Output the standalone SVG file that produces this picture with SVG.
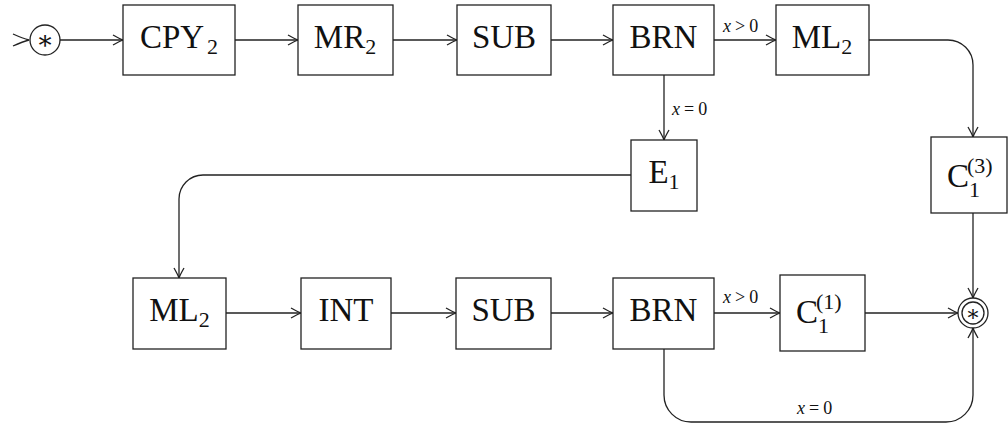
<svg xmlns="http://www.w3.org/2000/svg" width="1008" height="427" viewBox="0 0 1008 427">
<style>
.box{fill:#fff;stroke:#222;stroke-width:1.3}
.t{font-family:"Liberation Serif",serif;font-size:33px;fill:#111}
.s{font-size:22px}
.cond{font-family:"Liberation Serif",serif;font-size:18px;fill:#111}
.i{font-style:italic}
.conn path{fill:none;stroke:#222;stroke-width:1.3;marker-end:url(#arr)}
.ring{fill:#fff;stroke:#222;stroke-width:1.3}
.star{font-family:"DejaVu Serif",serif;fill:#111;text-anchor:middle}
</style>
<defs>
<marker id="arr" markerUnits="userSpaceOnUse" markerWidth="14" markerHeight="14" viewBox="-12 -7 14 14" refX="0" refY="0" orient="auto">
<path d="M-10,-5 Q-3,-1 0,0 Q-3,1 -10,5" fill="none" stroke="#222" stroke-width="1.3"/>
</marker>
</defs>
<rect width="1008" height="427" fill="#fff"/>

<g class="conn">
<path d="M60,40 H123"/>
<path d="M235,40 H298"/>
<path d="M393,40 H457"/>
<path d="M551,40 H613"/>
<path d="M714,40 H776"/>
<path d="M869,40 H948 A25,25 0 0 1 973,65 V137"/>
<path d="M664,75 V140"/>
<path d="M631,175 H203 A24,24 0 0 0 179,199 V278"/>
<path d="M226,313 H301"/>
<path d="M391,313 H456"/>
<path d="M551,313 H613"/>
<path d="M714,313 H780"/>
<path d="M865,313 H958"/>
<path d="M973,213 V298"/>
<path d="M664,349 V395 A27,27 0 0 0 691,422 H946 A27,27 0 0 0 973,395 V328"/>
<text class="cond" x="723" y="32"><tspan class="i">x</tspan><tspan dx="4">&gt;</tspan><tspan dx="4">0</tspan></text>
<text class="cond" x="672" y="115"><tspan class="i">x</tspan><tspan dx="4">=</tspan><tspan dx="4">0</tspan></text>
<text class="cond" x="723" y="303"><tspan class="i">x</tspan><tspan dx="4">&gt;</tspan><tspan dx="4">0</tspan></text>
<text class="cond" x="797" y="414"><tspan class="i">x</tspan><tspan dx="4">=</tspan><tspan dx="4">0</tspan></text>
</g>

<g id="start">
<path d="M13,34 Q23,38.5 29,40 Q23,41.5 13,46" fill="none" stroke="#222" stroke-width="1.3"/>
<circle class="ring" cx="45" cy="40" r="15"/>
<text class="star" x="45" y="49" font-size="26">∗</text>
</g>

<g id="cpy2"><rect class="box" x="123" y="5" width="112" height="70"/>
<text class="t" x="179" y="48" text-anchor="middle">CPY<tspan class="s" dx="3" dy="6">2</tspan></text></g>
<g id="mr2"><rect class="box" x="298" y="5" width="95" height="70"/>
<text class="t" x="345" y="48" text-anchor="middle">MR<tspan class="s" dy="6">2</tspan></text></g>
<g id="sub1"><rect class="box" x="457" y="5" width="94" height="70"/>
<text class="t" x="504" y="48" text-anchor="middle">SUB</text></g>
<g id="brn1"><rect class="box" x="613" y="5" width="101" height="70"/>
<text class="t" x="663.5" y="48" text-anchor="middle">BRN</text></g>
<g id="ml2a"><rect class="box" x="776" y="5" width="93" height="70"/>
<text class="t" x="822" y="48" text-anchor="middle">ML<tspan class="s" dy="6">2</tspan></text></g>
<g id="e1"><rect class="box" x="631" y="140" width="66" height="71"/>
<text class="t" x="664" y="183" text-anchor="middle">E<tspan class="s" dy="6">1</tspan></text></g>
<g id="c13"><rect class="box" x="931" y="137" width="76" height="76"/>
<text class="t" x="947" y="187">C<tspan class="s" x="969" y="197">1</tspan><tspan class="s" x="967" y="173">(3)</tspan></text></g>

<g id="ml2b"><rect class="box" x="133" y="278" width="93" height="71"/>
<text class="t" x="179.5" y="321" text-anchor="middle">ML<tspan class="s" dy="6">2</tspan></text></g>
<g id="int"><rect class="box" x="301" y="278" width="90" height="71"/>
<text class="t" x="346" y="321" text-anchor="middle">INT</text></g>
<g id="sub2"><rect class="box" x="456" y="278" width="95" height="71"/>
<text class="t" x="503.5" y="321" text-anchor="middle">SUB</text></g>
<g id="brn2"><rect class="box" x="613" y="278" width="101" height="71"/>
<text class="t" x="663.5" y="321" text-anchor="middle">BRN</text></g>
<g id="c11"><rect class="box" x="780" y="275" width="85" height="76"/>
<text class="t" x="796" y="323">C<tspan class="s" x="818" y="333">1</tspan><tspan class="s" x="816" y="309">(1)</tspan></text></g>

<g id="end">
<circle class="ring" cx="973" cy="313" r="15"/>
<circle class="ring" cx="973" cy="313" r="11"/>
<text class="star" x="973" y="321" font-size="22">∗</text>
</g>
</svg>
